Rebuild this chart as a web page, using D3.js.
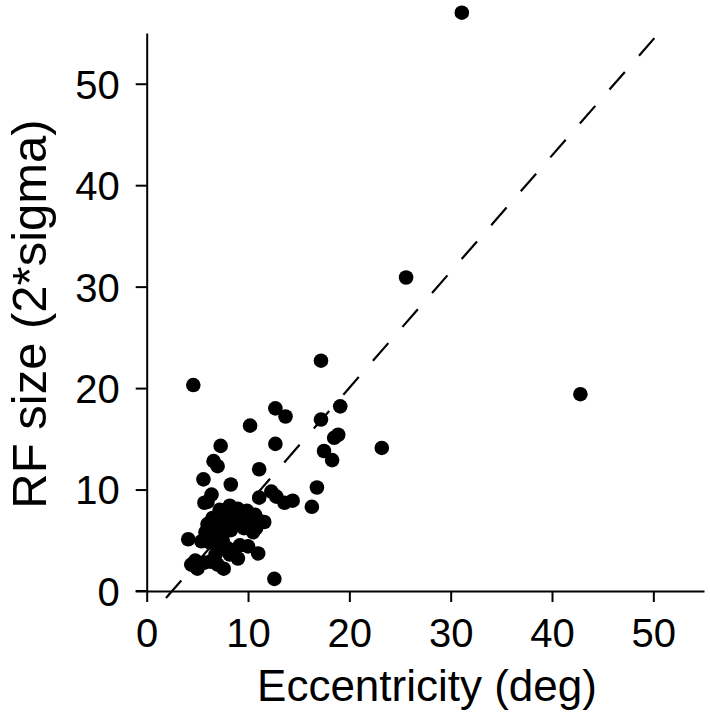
<!DOCTYPE html>
<html><head><meta charset="utf-8">
<script src="https://cdn.jsdelivr.net/npm/d3@7"></script>
<style>html,body{margin:0;padding:0;background:#fff;}svg{display:block;}</style>
</head><body>
<script>
const xTicks = [0,10,20,30,40,50];
const yTicks = [0,10,20,30,40,50];
const xLabel = "Eccentricity (deg)";
const yLabel = "RF size (2*sigma)";
const eccentricity = [31.1,25.6,42.8,4.6,17.2,23.2,19.1,17.2,18.5,18.9,17.5,18.3,16.8,16.3,12.6,12.7,13.7,10.2,12.7,7.3,6.6,7.0,11.1,5.6,8.3,11.1,12.3,12.8,13.6,14.4,4.1,
 6.4,5.7,6.0,8.2,9.0,9.9,10.7,11.6,7.2,6.5,7.0,8.0,8.6,9.3,10.2,11.0,9.6,10.8,6.0,5.8,6.5,7.4,8.3,10.5,5.4,6.2,7.0,7.5,8.0,6.8,8.4,9.2,10.0,11.0,9.0,4.8,4.4,5.0,5.7,6.3,7.0,7.6,8.2,6.8,7.8,9.8,8.6];
const rfSize = [57.0,30.9,19.4,20.3,22.7,14.1,18.2,16.9,15.1,15.4,13.8,12.9,10.2,8.3,1.2,18.0,17.2,16.3,14.5,14.3,12.8,12.3,12.0,11.0,10.5,9.2,9.8,9.3,8.7,8.9,5.1,
 9.5,8.7,8.8,8.4,8.1,7.9,7.5,6.8,8.0,7.2,7.0,7.2,6.6,6.9,7.1,7.0,6.2,6.2,6.6,5.8,5.7,5.6,6.0,5.8,4.9,4.8,4.5,5.0,4.2,3.6,3.8,4.5,4.4,3.7,3.2,3.0,2.6,2.2,2.8,2.9,2.6,2.2,3.6,6.3,6.6,7.5,7.6];
const fitLineX = [1.9, 50.1];
const fitIntercept = -2.87, fitSlope = 1.145;

const W = 710, H = 719;
const svg = d3.select("body").append("svg").attr("width", W).attr("height", H);
const x = d3.scaleLinear().domain([0,55]).range([146.7,704]);
const y = d3.scaleLinear().domain([0,55]).range([591,33]);
const font = "'Liberation Sans', Arial, Helvetica, sans-serif";

const xAxis = svg.append("g").attr("transform", `translate(0,${y(0)})`)
  .call(d3.axisBottom(x).tickValues(xTicks).tickSize(11).tickSizeOuter(0).tickPadding(17));
const yAxis = svg.append("g").attr("transform", `translate(${x(0)},0)`)
  .call(d3.axisLeft(y).tickValues(yTicks).tickSize(11).tickSizeOuter(0).tickPadding(16));
[xAxis, yAxis].forEach(g => {
  g.selectAll("path.domain").attr("stroke","#000").attr("stroke-width",2);
  g.selectAll(".tick line").attr("stroke","#000").attr("stroke-width",2);
  g.selectAll(".tick text").attr("fill","#000").style("font-family",font).style("font-size","40px");
});
xAxis.selectAll(".tick text").attr("dy","0.71em");
yAxis.selectAll(".tick text").attr("dy","0.36em");
svg.append("line").attr("x1", x(0)-11).attr("x2", x(0)).attr("y1", y(0)).attr("y2", y(0))
  .attr("stroke","#000").attr("stroke-width",2);

// fit line (dashes at both ends)
const line = d3.line().x(d => x(d)).y(d => y(fitIntercept + fitSlope*d));
const fit = svg.append("path").attr("d", line(fitLineX)).attr("fill","none").attr("stroke","#000")
  .attr("stroke-width",2.2);
const L = fit.node().getTotalLength();
const n = Math.round((L - 23) / 45);
const per = L / (n + 0.52);
fit.attr("stroke-dasharray", `${(per*0.52).toFixed(2)},${(per*0.48).toFixed(2)}`);

svg.append("g").selectAll("circle").data(eccentricity.map((e,i)=>[e,rfSize[i]])).join("circle")
  .attr("cx", d => x(d[0])).attr("cy", d => y(d[1])).attr("r", 7.3).attr("fill","#000");

svg.append("text").attr("x", 427).attr("y", 701).attr("text-anchor","middle")
  .style("font-family",font).style("font-size","44px").attr("fill","#000").text(xLabel);
svg.append("text").attr("transform","translate(46,314) rotate(-90)").attr("text-anchor","middle")
  .style("font-family",font).style("font-size","49px").attr("fill","#000").text(yLabel);
</script>
</body></html>
